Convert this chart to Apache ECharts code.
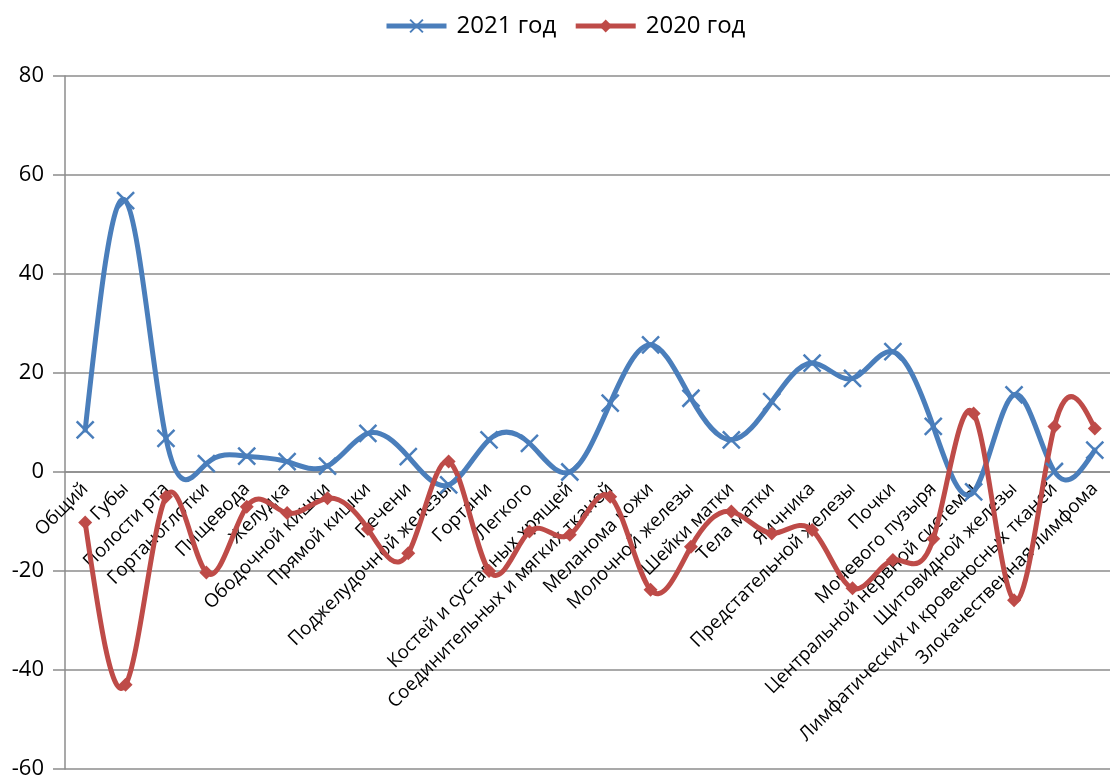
<!DOCTYPE html>
<html>
<head>
<meta charset="utf-8">
<script src="https://cdn.jsdelivr.net/npm/echarts@6/dist/echarts.min.js"></script>
<style>
  html, body { margin: 0; padding: 0; background: #ffffff; }
  #chart { width: 1110px; height: 776px; }
</style>
</head>
<body>
<div id="chart"></div>
<script>
// Localisations
const categories = [
  'Общий', 'Губы', 'Полости рта', 'Гортаноглотки', 'Пищевода', 'Желудка',
  'Ободочной кишки', 'Прямой кишки', 'Печени', 'Поджелудочной железы', 'Гортани',
  'Легкого', 'Костей и суставных хрящей', 'Соединительных и мягких тканей',
  'Меланома кожи', 'Молочной железы', 'Шейки матки', 'Тела матки', 'Яичника',
  'Предстательной железы', 'Почки', 'Мочевого пузыря', 'Центральной нервной системы',
  'Щитовидной железы', 'Лимфатических и кровеносных тканей', 'Злокачественная лимфома'
];

// Values per year
const values2021 = [
  8.5, 54.8, 6.8, 1.7, 3.2, 2.1, 1.2, 7.8, 3.1, -2.6, 6.5, 5.8, 0,
  13.9, 25.7, 14.9, 6.5, 14.2, 22, 18.9, 24.3, 9.2, -4, 15.6, 0.1, 4.4
];
const values2020 = [
  -10.2, -43, -5, -20.3, -7, -8.3, -5.3, -11.5, -16.4, 2.1, -20, -12, -12.7,
  -5, -23.8, -15.1, -8, -12.4, -11.7, -23.5, -17.8, -13.5, 11.8, -25.9, 9.2, 8.8
];

const seriesNames = ['2021 год', '2020 год'];

// Value axis ticks
const yMin = -60;
const yMax = 80;
const yStep = 20;

const BLUE = '#4a7ebb';
const RED = '#be4b48';
const FONT = 'Open Sans';

// Second derivatives of a natural cubic spline through the values (unit spacing)
function splineSecondDerivatives(v) {
  const n = v.length;
  const M = new Array(n).fill(0);
  if (n < 3) return M;
  const m = n - 2;
  const a = new Array(m), b = new Array(m), c = new Array(m), d = new Array(m);
  for (let k = 0; k < m; k++) {
    const i = k + 1;
    a[k] = 1; b[k] = 4; c[k] = 1;
    d[k] = 6 * (v[i + 1] - 2 * v[i] + v[i - 1]);
  }
  for (let k = 1; k < m; k++) {
    const w = a[k] / b[k - 1];
    b[k] -= w * c[k - 1];
    d[k] -= w * d[k - 1];
  }
  const x = new Array(m);
  x[m - 1] = d[m - 1] / b[m - 1];
  for (let k = m - 2; k >= 0; k--) x[k] = (d[k] - c[k] * x[k + 1]) / b[k];
  for (let k = 0; k < m; k++) M[k + 1] = x[k];
  return M;
}

// Smooth curve drawn as one bezier piece per interval, positioned via the axes
function curveSeries(values, color) {
  const M = splineSecondDerivatives(values);
  return {
    type: 'custom',
    silent: true,
    z: 2,
    data: values.map((v, i) => [i, v]),
    encode: { x: 0, y: 1 },
    renderItem(params, api) {
      const i = params.dataIndex;
      if (i >= values.length - 1) return null;
      const p0 = api.coord([i, values[i]]);
      const p1 = api.coord([i + 1, values[i + 1]]);
      const diff = values[i + 1] - values[i];
      const s0 = diff - (2 * M[i] + M[i + 1]) / 6;
      const s1 = diff + (M[i] + 2 * M[i + 1]) / 6;
      const cy1 = api.coord([i, values[i] + s0 / 3])[1];
      const cy2 = api.coord([i + 1, values[i + 1] - s1 / 3])[1];
      const dx = (p1[0] - p0[0]) / 3;
      return {
        type: 'bezierCurve',
        shape: {
          x1: p0[0], y1: p0[1], x2: p1[0], y2: p1[1],
          cpx1: p0[0] + dx, cpy1: cy1, cpx2: p1[0] - dx, cpy2: cy2
        },
        style: { stroke: color, lineWidth: 5, fill: null, lineCap: 'round' }
      };
    }
  };
}

const chart = echarts.init(document.getElementById('chart'), null, { renderer: 'canvas' });

chart.setOption({
  animation: false,
  backgroundColor: '#ffffff',
  legend: {
    data: seriesNames,
    top: 9,
    left: 379,
    itemWidth: 60,
    itemHeight: 16,
    itemGap: 17,
    textStyle: { fontFamily: FONT, fontSize: 24, color: '#000', padding: [0, 0, 0, 5] },
    lineStyle: { width: 5, opacity: 1 }
  },
  grid: {
    left: 65, right: -5, top: 76, bottom: 7,
    containLabel: false,
    outerBoundsMode: 'none'
  },
  xAxis: {
    type: 'category',
    data: categories,
    boundaryGap: true,
    offset: 0,
    axisLine: { show: true, onZero: false, lineStyle: { color: '#8c8c8c', width: 1.5 } },
    axisTick: { show: false },
    axisLabel: {
      interval: 0,
      rotate: 45,
      margin: 14,
      fontFamily: FONT,
      fontSize: 18.7,
      color: '#000'
    },
    splitLine: { show: false }
  },
  yAxis: {
    type: 'value',
    min: yMin,
    max: yMax,
    interval: yStep,
    axisLine: { show: true, onZero: false, lineStyle: { color: '#8c8c8c', width: 1.5 } },
    axisTick: { show: true, length: 12, lineStyle: { color: '#8c8c8c', width: 1.5 } },
    axisLabel: { margin: 21, fontFamily: FONT, fontSize: 22, color: '#000' },
    splitLine: { show: true, lineStyle: { color: '#8c8c8c', width: 1.5 } }
  },
  series: [
    curveSeries(values2021, BLUE),
    {
      name: seriesNames[0],
      type: 'line',
      data: values2021,
      z: 3,
      symbol: 'path://M0,0L10,10M10,0L0,10',
      symbolSize: 17,
      showSymbol: true,
      lineStyle: { width: 0, color: BLUE },
      itemStyle: { color: BLUE, borderColor: BLUE, borderWidth: 2.5 }
    },
    curveSeries(values2020, RED),
    {
      name: seriesNames[1],
      type: 'line',
      data: values2020,
      z: 3,
      symbol: 'diamond',
      symbolSize: 14,
      showSymbol: true,
      lineStyle: { width: 0, color: RED },
      itemStyle: { color: RED }
    }
  ]
});

// Category axis (line and labels) sits on the value axis zero line
const zeroY = chart.convertToPixel({ yAxisIndex: 0 }, 0);
const baseY = chart.convertToPixel({ yAxisIndex: 0 }, yMin);
chart.setOption({ xAxis: { offset: zeroY - baseY } });
</script>
</body>
</html>
